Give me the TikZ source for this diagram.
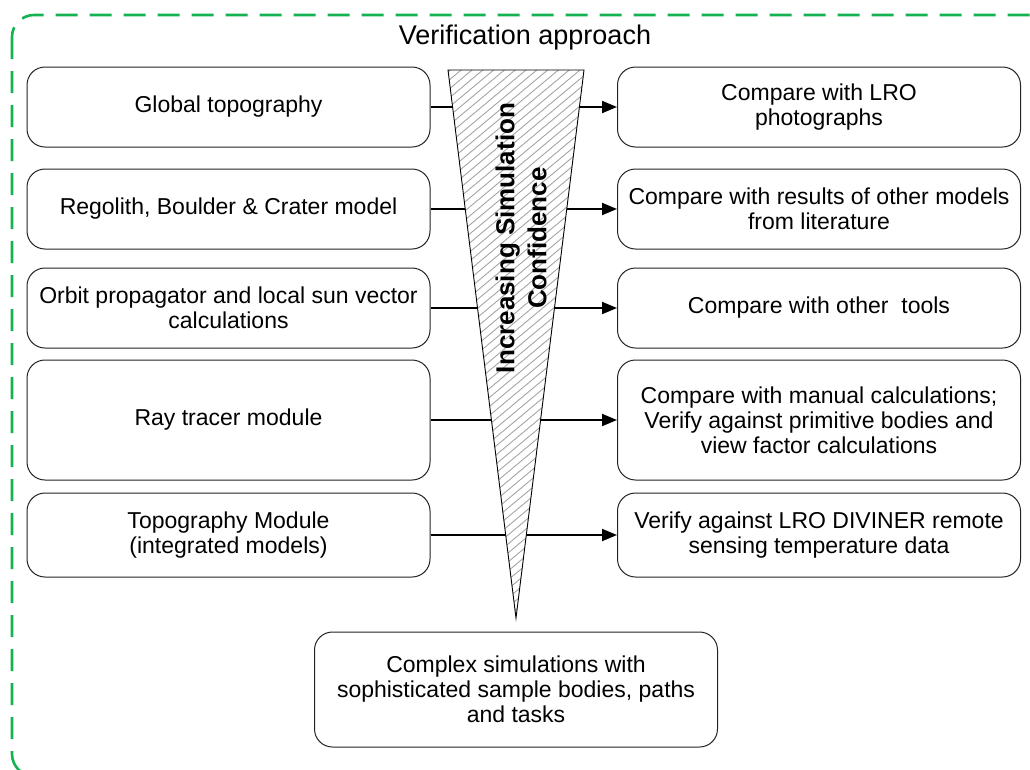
\documentclass[tikz,border=0pt]{standalone}
\usepackage{fontspec}
\setmainfont{Liberation Sans}
\usetikzlibrary{arrows.meta}
\definecolor{bordergreen}{RGB}{20,178,80}
\definecolor{hatchgray}{RGB}{165,165,165}
\definecolor{boxline}{RGB}{35,35,35}
\tikzset{
  stepbox/.style={draw=boxline, line width=1pt, rounded corners=18pt, minimum width=403pt,
    inner sep=0pt, align=center, font=\fontsize{23}{25}\selectfont, text=black},
  arr/.style={line width=2pt, -{Triangle[length=15pt,width=12pt]}},
}
\begin{document}
\begin{tikzpicture}[x=1pt,y=-1pt]
\useasboundingbox (0,0) rectangle (1030,769);
\clip (0,0) rectangle (1030,769);
% outer dashed border
\draw[bordergreen, line width=2.6pt, dash pattern=on 22pt off 12pt, rounded corners=22pt]
  (12,15) rectangle (1060,776);
\node[font=\fontsize{27}{29}\selectfont] (title) at (525,38) {Verification approach};
% left boxes
\node[stepbox, minimum height=80pt] (l1) at (228.5,107) {Global topography};
\node[stepbox, minimum height=80pt] (l2) at (228.5,209) {Regolith, Boulder \& Crater model};
\node[stepbox, minimum height=80pt] (l3) at (228.5,308) {Orbit propagator and local sun vector\\calculations};
\node[stepbox, minimum height=120pt] (l4) at (228.5,420) {Ray tracer module};
\node[stepbox, minimum height=84pt] (l5) at (228.5,535) {Topography Module\\(integrated models)};
% right boxes
\node[stepbox, minimum height=80pt] (r1) at (819,107) {Compare with LRO\\photographs};
\node[stepbox, minimum height=80pt] (r2) at (819,209) {Compare with results of other models\\from literature};
\node[stepbox, minimum height=80pt] (r3) at (819,308) {Compare with other~ tools};
\node[stepbox, minimum height=120pt] (r4) at (819,420) {Compare with manual calculations;\\Verify against primitive bodies and\\view factor calculations};
\node[stepbox, minimum height=84pt] (r5) at (819,535) {Verify against LRO DIVINER remote\\sensing temperature data};
% bottom box
\node[stepbox, minimum height=115pt] (bot) at (516,689.5) {Complex simulations with\\sophisticated sample bodies, paths\\and tasks};
% connectors
\foreach \i in {1,...,5} { \draw[arr] (l\i.east) -- (r\i.west); }
% triangle
\coordinate (ta) at (448,70);
\coordinate (tb) at (584,70);
\coordinate (tc) at (516,618);
\fill[white] (ta) -- (tb) -- (tc) -- cycle;
\begin{scope}
  \clip (ta) -- (tb) -- (tc) -- cycle;
  \foreach \k in {0,...,80} {
    \draw[hatchgray, line width=0.9pt] (430,60+\k*9) -- ++(180,-150);
  }
\end{scope}
\draw[black, line width=0.9pt] (ta) -- (tb) -- (tc) -- cycle;
\node[rotate=90, align=center, font=\bfseries\fontsize{26}{32}\selectfont] (conf) at (521,238)
  {Increasing Simulation\\Confidence};
\end{tikzpicture}
\end{document}
